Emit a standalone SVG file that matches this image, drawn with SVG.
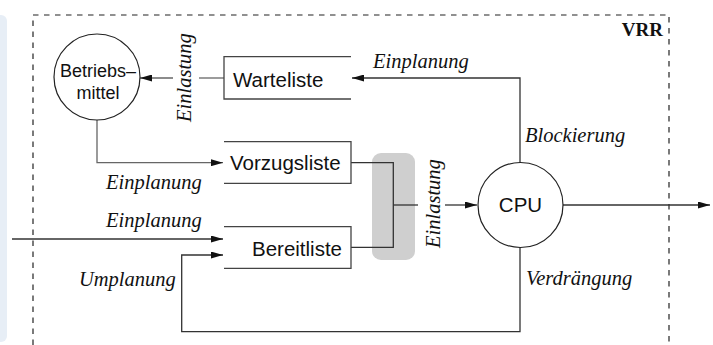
<svg xmlns="http://www.w3.org/2000/svg" width="713" height="345" viewBox="0 0 713 345">
<defs>
<style>
.sans{font-family:"Liberation Sans",Arial,Helvetica,sans-serif;fill:#111}
.lbl{font-family:"Liberation Serif","Times New Roman",serif;font-style:italic;font-size:20.5px;fill:#111}
.box{fill:none;stroke:#444;stroke-width:1.3}
.ln{fill:none;stroke:#333;stroke-width:1.3}
.lng{fill:none;stroke:#666;stroke-width:1.3}
.node{fill:#fff;stroke:#222;stroke-width:1.2}
</style>
<marker id="arr" viewBox="0 0 12 7" refX="12" refY="3.5" markerWidth="12" markerHeight="7" markerUnits="userSpaceOnUse" orient="auto">
<path d="M0,0 L12,3.5 L0,7 Z" fill="#111"/>
</marker>
</defs>
<rect x="-10" y="15" width="17" height="327" rx="6" fill="#e7eef6"/>
<path d="M33,345 V15 H669 V345" fill="none" stroke="#222" stroke-width="1.2" stroke-dasharray="5.5 5.5"/>
<text x="663" y="36" text-anchor="end" font-family="Liberation Serif,Times New Roman,serif" font-weight="bold" font-size="19" fill="#111">VRR</text>
<rect x="372" y="153" width="43" height="107" rx="9" fill="#cfcfcf"/>
<g id="connectors">
<line class="lng" x1="224" y1="78" x2="199" y2="78"/>
<line class="lng" x1="173" y1="78" x2="140" y2="78" marker-end="url(#arr)"/>
<path class="ln" d="M520,163 V78 H352" marker-end="url(#arr)"/>
<path class="lng" d="M97,120 V162.7 H223" marker-end="url(#arr)"/>
<path class="ln" d="M351,162.7 H393.3 V247.3 H351"/>
<line class="ln" x1="393.3" y1="205" x2="418" y2="205"/>
<line class="ln" x1="445" y1="205" x2="477" y2="205" marker-end="url(#arr)"/>
<line class="ln" x1="12" y1="239" x2="223" y2="239" marker-end="url(#arr)"/>
<path class="ln" d="M520,247 V331.7 H181.7 V255 H223" marker-end="url(#arr)"/>
<line class="ln" x1="563" y1="205" x2="710" y2="205" marker-end="url(#arr)"/>
</g>
<g id="betriebsmittel">
<circle class="node" cx="97" cy="77" r="43"/>
<text class="sans" x="98" y="77" font-size="18" text-anchor="middle">Betriebs–</text>
<text class="sans" x="98" y="98.5" font-size="18" text-anchor="middle">mittel</text>
</g>
<g id="warteliste">
<path class="box" stroke="#777" d="M351,56.7 H224 V99 H351"/>
<text class="sans" x="233" y="87" font-size="20.5">Warteliste</text>
</g>
<g id="vorzugsliste">
<path class="box" d="M224,141.7 H351 V183.3 H224"/>
<text class="sans" x="230" y="170" font-size="20.5">Vorzugsliste</text>
</g>
<g id="bereitliste">
<path class="box" d="M224,226.7 H351 V268.3 H224"/>
<text class="sans" x="342" y="255.5" font-size="20.5" text-anchor="end">Bereitliste</text>
</g>
<g id="cpu">
<circle class="node" cx="520.5" cy="205" r="42.5"/>
<text class="sans" x="520.5" y="212" font-size="20.5" text-anchor="middle">CPU</text>
</g>
<g id="labels">
<text class="lbl" x="373" y="68">Einplanung</text>
<text class="lbl" x="525" y="141.5">Blockierung</text>
<text class="lbl" x="106" y="189">Einplanung</text>
<text class="lbl" x="106" y="226.5">Einplanung</text>
<text class="lbl" x="79" y="285.5">Umplanung</text>
<text class="lbl" x="526" y="285">Verdrängung</text>
<text class="lbl" transform="translate(190.5,122) rotate(-90)">Einlastung</text>
<text class="lbl" transform="translate(440,248) rotate(-90)">Einlastung</text>
</g>
</svg>
